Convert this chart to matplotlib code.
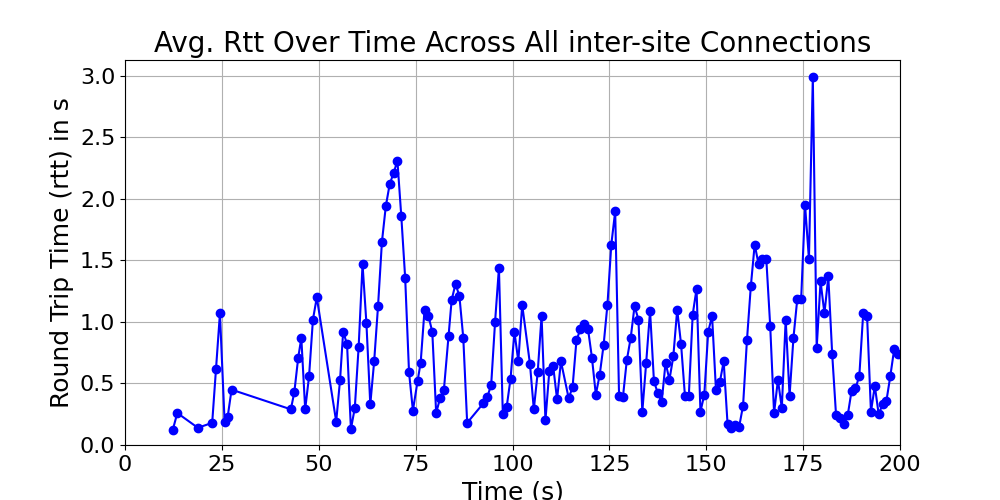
import matplotlib
matplotlib.use('Agg')
import matplotlib.pyplot as plt

# time (s) and average rtt (s)
time_s = [12.3, 13.5, 18.8, 22.5, 23.5, 24.5, 25.7, 26.5, 27.5, 42.8, 43.7, 44.7, 45.5, 46.5, 47.5, 48.5, 49.5,
          54.5, 55.5, 56.3, 57.3, 58.3, 59.3, 60.3, 61.3, 62.3, 63.3, 64.3, 65.3, 66.3, 67.3, 68.3, 69.3, 70.3,
          71.3, 72.3, 73.3, 74.3, 75.5, 76.3, 77.3, 78.3, 79.3, 80.3, 81.3, 82.3, 83.5, 84.3, 85.3, 86.3, 87.3,
          88.3, 92.5, 93.5, 94.5, 95.5, 96.5, 97.5, 98.5, 99.5, 100.5, 101.5, 102.5, 104.5, 105.5, 106.5, 107.5,
          108.5, 109.5, 110.5, 111.5, 112.5, 114.5, 115.5, 116.5, 117.5, 118.5, 119.5, 120.5, 121.5, 122.5,
          123.5, 124.5, 125.5, 126.5, 127.5, 128.5, 129.5, 130.5, 131.5, 132.5, 133.5, 134.5, 135.5, 136.5,
          137.5, 138.5, 139.5, 140.5, 141.5, 142.5, 143.5, 144.5, 145.5, 146.5, 147.5, 148.5, 149.5, 150.5,
          151.5, 152.5, 153.5, 154.5, 155.5, 156.5, 157.5, 158.5, 159.5, 160.5, 161.5, 162.5, 163.5, 164.5,
          165.5, 166.5, 167.5, 168.5, 169.5, 170.5, 171.5, 172.5, 173.5, 174.5, 175.5, 176.5, 177.5, 178.5,
          179.5, 180.5, 181.5, 182.5, 183.5, 184.5, 185.5, 186.5, 187.5, 188.5, 189.5, 190.5, 191.5, 192.5,
          193.5, 194.5, 195.5, 196.5, 197.5, 198.5, 199.5]
rtt_s = [0.12, 0.26, 0.14, 0.18, 0.62, 1.07, 0.19, 0.23, 0.45, 0.29, 0.43, 0.71, 0.87, 0.29, 0.56, 1.02, 1.20,
         0.19, 0.53, 0.92, 0.82, 0.13, 0.30, 0.80, 1.47, 0.99, 0.33, 0.68, 1.13, 1.65, 1.94, 2.12, 2.21, 2.31,
         1.86, 1.36, 0.59, 0.28, 0.52, 0.67, 1.10, 1.05, 0.92, 0.26, 0.38, 0.45, 0.89, 1.18, 1.31, 1.21, 0.87,
         0.18, 0.34, 0.39, 0.49, 1.00, 1.44, 0.25, 0.31, 0.54, 0.92, 0.68, 1.14, 0.66, 0.29, 0.59, 1.05,
         0.20, 0.60, 0.64, 0.37, 0.68, 0.38, 0.47, 0.85, 0.94, 0.98, 0.94, 0.71, 0.41, 0.57,
         0.81, 1.14, 1.63, 1.90, 0.40, 0.39, 0.69, 0.87, 1.13, 1.02, 0.27, 0.67, 1.09, 0.52,
         0.42, 0.35, 0.67, 0.53, 0.72, 1.10, 0.82, 0.40, 0.40, 1.06, 1.27, 0.27, 0.41, 0.92,
         1.05, 0.45, 0.51, 0.68, 0.17, 0.14, 0.16, 0.15, 0.32, 0.85, 1.29, 1.63, 1.47, 1.51,
         1.51, 0.97, 0.26, 0.53, 0.30, 1.02, 0.40, 0.87, 1.19, 1.19, 1.95, 1.51, 2.99, 0.79,
         1.33, 1.07, 1.37, 0.74, 0.24, 0.22, 0.17, 0.24, 0.44, 0.46, 0.56, 1.07, 1.05, 0.27,
         0.48, 0.25, 0.33, 0.36, 0.56, 0.78, 0.74]

fig, ax = plt.subplots(figsize=(10, 5), dpi=100)
ax.plot(time_s, rtt_s, 'o-', color='blue', markersize=6, linewidth=1.5)
ax.set_title('Avg. Rtt Over Time Across All inter-site Connections', fontsize=20)
ax.set_xlabel('Time (s)', fontsize=18)
ax.set_ylabel('Round Trip Time (rtt) in s', fontsize=18)
ax.set_xlim(0, 200)
ax.set_ylim(0, 3.13)
ax.tick_params(labelsize=16)
ax.grid(True)
plt.savefig('out.png', dpi=100)
